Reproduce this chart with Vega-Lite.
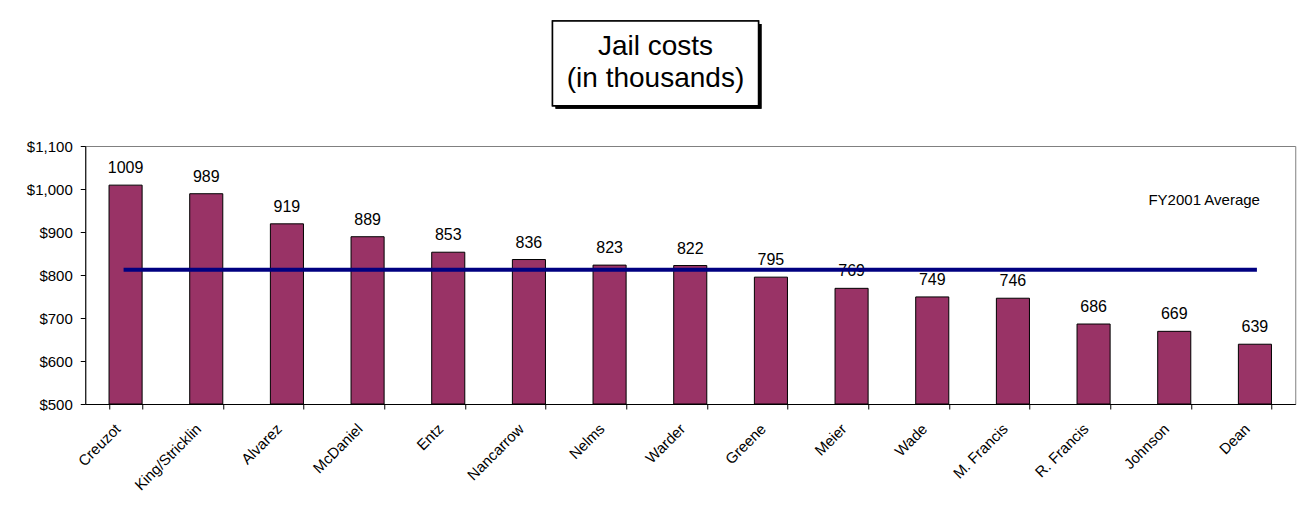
{
  "$schema": "https://vega.github.io/schema/vega-lite/v6.json",
  "padding": {"left": 25, "top": 20, "right": 10, "bottom": 5},
  "background": "white",
  "config": {"font": "Liberation Sans", "view": {"stroke": null}},
  "datasets": {
    "costs": [
      {"name": "Creuzot", "cost": 1009},
      {"name": "King/Stricklin", "cost": 989},
      {"name": "Alvarez", "cost": 919},
      {"name": "McDaniel", "cost": 889},
      {"name": "Entz", "cost": 853},
      {"name": "Nancarrow", "cost": 836},
      {"name": "Nelms", "cost": 823},
      {"name": "Warder", "cost": 822},
      {"name": "Greene", "cost": 795},
      {"name": "Meier", "cost": 769},
      {"name": "Wade", "cost": 749},
      {"name": "M. Francis", "cost": 746},
      {"name": "R. Francis", "cost": 686},
      {"name": "Johnson", "cost": 669},
      {"name": "Dean", "cost": 639}
    ],
    "title": [
      {"line": "Jail costs", "pos": 37},
      {"line": "(in thousands)", "pos": 72}
    ]
  },
  "spacing": 25,
  "center": true,
  "vconcat": [
    {
      "width": 276,
      "height": 92,
      "data": {"name": "title"},
      "layer": [
        {
          "mark": {"type": "rect", "fill": "black", "xOffset": 3, "x2Offset": 3, "yOffset": 3, "y2Offset": 3},
          "encoding": {
            "x": {"datum": 0, "type": "quantitative", "scale": {"domain": [0, 276]}, "axis": null},
            "x2": {"datum": 209},
            "y": {"datum": 0, "type": "quantitative", "scale": {"domain": [0, 92], "reverse": true}, "axis": null},
            "y2": {"datum": 92}
          }
        },
        {
          "mark": {"type": "rect", "fill": "white", "stroke": "black", "strokeWidth": 1.5},
          "encoding": {
            "x": {"datum": 0, "type": "quantitative"},
            "x2": {"datum": 209},
            "y": {"datum": 0, "type": "quantitative"},
            "y2": {"datum": 92}
          }
        },
        {
          "mark": {"type": "text", "fontSize": 28, "baseline": "alphabetic", "align": "center", "color": "black"},
          "encoding": {
            "x": {"datum": 104.5, "type": "quantitative"},
            "y": {"field": "pos", "type": "quantitative"},
            "text": {"field": "line"}
          }
        }
      ]
    },
    {
      "width": 1210,
      "height": 258,
      "data": {"name": "costs"},
      "view": {"stroke": "#808080"},
      "encoding": {
        "x": {
          "field": "name",
          "type": "nominal",
          "sort": null,
          "scale": {"paddingInner": 0.59, "paddingOuter": 0.295},
          "axis": {
            "title": null,
            "labelAngle": -45,
            "tickBand": "extent",
            "domainColor": "black",
            "tickColor": "black",
            "tickSize": 5,
            "labelFontSize": 15,
            "labelColor": "black",
            "labelPadding": 12,
            "labelOffset": -13
          }
        }
      },
      "layer": [
        {
          "mark": {"type": "bar", "fill": "#993366", "stroke": "black", "strokeWidth": 1},
          "encoding": {
            "y": {
              "field": "cost",
              "type": "quantitative",
              "scale": {"domain": [500, 1100], "zero": false},
              "axis": {
                "title": null,
                "values": [500, 600, 700, 800, 900, 1000, 1100],
                "format": "$,.0f",
                "grid": false,
                "domainColor": "black",
                "tickColor": "black",
                "tickSize": 5,
                "labelPadding": 8,
                "labelFontSize": 15,
                "labelColor": "black"
              }
            },
            "y2": {"datum": 500}
          }
        },
        {
          "mark": {"type": "text", "dy": -12, "baseline": "alphabetic", "fontSize": 16, "color": "black"},
          "encoding": {
            "y": {"field": "cost", "type": "quantitative"},
            "text": {"field": "cost"}
          }
        },
        {
          "mark": {"type": "line", "color": "#000080", "strokeWidth": 4, "strokeCap": "square"},
          "encoding": {
            "y": {"datum": 812}
          }
        },
        {
          "data": {"values": [{"label": "FY2001 Average"}]},
          "mark": {"type": "text", "align": "right", "baseline": "alphabetic", "fontSize": 15, "dx": 5, "color": "black"},
          "encoding": {
            "x": {"datum": "Dean"},
            "y": {"datum": 963},
            "text": {"field": "label"}
          }
        }
      ]
    }
  ]
}
